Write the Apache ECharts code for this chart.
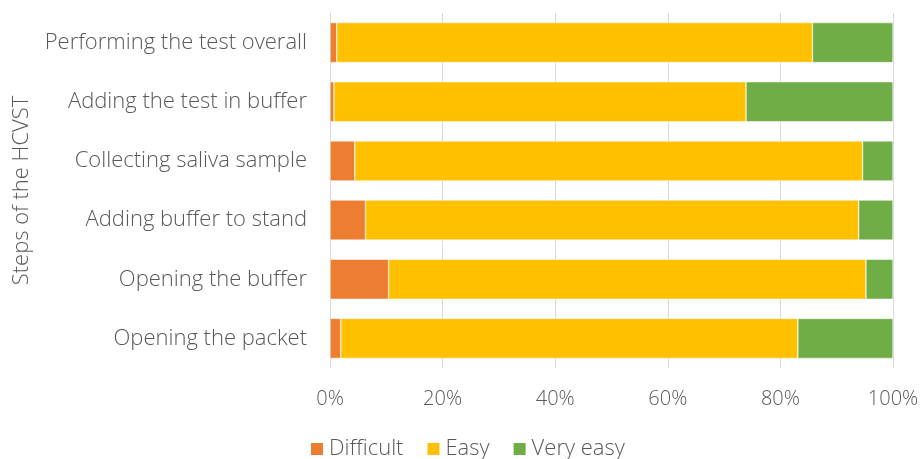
<!DOCTYPE html>
<html>
<head>
<meta charset="utf-8">
<script src="https://cdn.jsdelivr.net/npm/echarts@6/dist/echarts.min.js"></script>
<style>
  html, body { margin: 0; padding: 0; background: #fff; }
  #chart { width: 922px; height: 459px; }
</style>
</head>
<body>
<div id="chart"></div>
<script>
// categories listed bottom to top (ECharts category axis starts at bottom)
const steps = [
  "Opening the packet",
  "Opening the buffer",
  "Adding buffer to stand",
  "Collecting saliva sample",
  "Adding the test in buffer",
  "Performing the test overall"
];
const difficult = [1.9, 10.4, 6.3, 4.4, 0.7, 1.2];
const easy = [81.2, 84.8, 87.6, 90.2, 73.2, 84.5];
const veryEasy = [16.9, 4.8, 6.1, 5.4, 26.1, 14.3];
const seriesNames = ["Difficult", "Easy", "Very easy"];
const colors = ["#ED7D31", "#FFC000", "#70AD47"];

const font = "Open Sans";
const textColor = "#595959";

const chart = echarts.init(document.getElementById("chart"));

const makeSeries = (name, data, color) => ({
  name: name,
  type: "bar",
  stack: "total",
  barWidth: 40,
  data: data,
  itemStyle: { color: color, borderColor: "#ffffff", borderWidth: 0.5 },
});

const option = {
  animation: false,
  color: colors,
  textStyle: { fontFamily: font },
  grid: { left: 330, right: 29, top: 13, height: 355 },
  legend: {
    top: 433,
    left: 304,
    itemWidth: 14,
    itemHeight: 14,
    itemGap: 22,
    icon: "rect",
    textStyle: { fontFamily: font, fontSize: 22, fontWeight: 300, color: textColor },
    data: seriesNames,
  },
  xAxis: {
    type: "value",
    min: 0,
    max: 100,
    interval: 20,
    axisLine: { show: false },
    axisTick: { show: false },
    splitLine: { lineStyle: { color: "#d9d9d9", width: 1 } },
    axisLabel: {
      formatter: "{value}%",
      margin: 21,
      fontFamily: font,
      fontSize: 20,
      fontWeight: 300,
      color: textColor,
    },
  },
  yAxis: {
    type: "category",
    data: steps,
    name: "Steps of the HCVST",
    nameLocation: "middle",
    nameRotate: 90,
    nameGap: 297,
    nameTextStyle: { fontFamily: font, fontSize: 22, fontWeight: 300, color: textColor },
    axisLine: { show: true, lineStyle: { color: "#d9d9d9" } },
    axisTick: { show: false },
    axisLabel: {
      margin: 23,
      fontFamily: font,
      fontSize: 22,
      fontWeight: 300,
      color: textColor,
    },
  },
  series: [
    makeSeries(seriesNames[0], difficult, colors[0]),
    makeSeries(seriesNames[1], easy, colors[1]),
    makeSeries(seriesNames[2], veryEasy, colors[2]),
  ],
};

chart.setOption(option);
</script>
</body>
</html>
